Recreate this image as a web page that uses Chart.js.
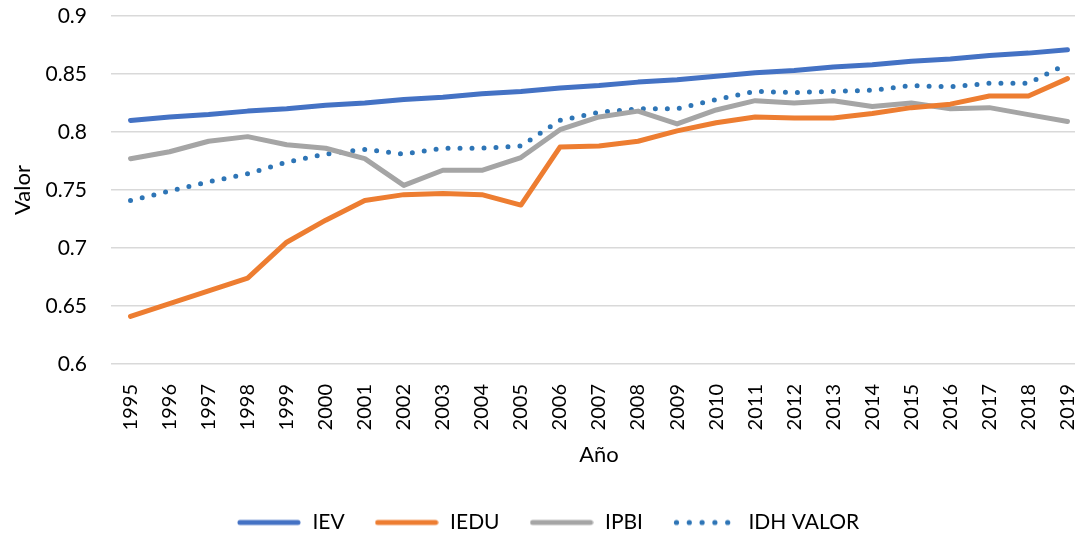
<!DOCTYPE html>
<html>
<head>
<meta charset="utf-8">
<script src="https://cdn.jsdelivr.net/npm/chart.js@4"></script>
<style>
  html, body { margin: 0; padding: 0; background: #fff; overflow: hidden; }
  #wrap { width: 1096px; height: 537px; }
</style>
</head>
<body>
<div id="wrap"><canvas id="chart" width="1096" height="537"></canvas></div>
<script>
const years = ["1995", "1996", "1997", "1998", "1999", "2000", "2001", "2002", "2003", "2004",
  "2005", "2006", "2007", "2008", "2009", "2010", "2011", "2012", "2013", "2014",
  "2015", "2016", "2017", "2018", "2019"];

const iev = [0.810, 0.813, 0.815, 0.818, 0.820, 0.823, 0.825, 0.828, 0.830, 0.833,
  0.835, 0.838, 0.840, 0.843, 0.845, 0.848, 0.851, 0.853, 0.856, 0.858,
  0.861, 0.863, 0.866, 0.868, 0.871];

const iedu = [0.641, 0.652, 0.663, 0.674, 0.705, 0.724, 0.741, 0.746, 0.747, 0.746,
  0.737, 0.787, 0.788, 0.792, 0.801, 0.808, 0.813, 0.812, 0.812, 0.816,
  0.821, 0.824, 0.831, 0.831, 0.846];

const ipbi = [0.777, 0.783, 0.792, 0.796, 0.789, 0.786, 0.777, 0.754, 0.767, 0.767,
  0.778, 0.802, 0.813, 0.818, 0.807, 0.819, 0.827, 0.825, 0.827, 0.822,
  0.825, 0.820, 0.821, 0.815, 0.809];

const idh = [0.741, 0.749, 0.757, 0.764, 0.774, 0.781, 0.785, 0.781, 0.786, 0.786,
  0.788, 0.810, 0.817, 0.820, 0.820, 0.828, 0.835, 0.834, 0.835, 0.836,
  0.840, 0.839, 0.842, 0.842, 0.859];

const yTicks = [0.6, 0.65, 0.7, 0.75, 0.8, 0.85, 0.9];

const font = "Lato, 'Liberation Sans', sans-serif";
const textColor = "#000";

function line(label, data, color, dashed) {
  return {
    label: label,
    data: data,
    borderColor: color,
    backgroundColor: color,
    borderWidth: 5,
    borderCapStyle: "round",
    borderJoinStyle: "round",
    borderDash: dashed ? [0, 12] : [],
    pointRadius: 0,
    pointHoverRadius: 0,
    fill: false,
    tension: 0,
  };
}

// small picture used as the legend sample (line or dots)
function legendSample(color, dashed) {
  const c = document.createElement("canvas");
  c.width = 64;
  c.height = 8;
  const ctx = c.getContext("2d");
  ctx.strokeStyle = color;
  ctx.fillStyle = color;
  ctx.lineWidth = 5;
  ctx.lineCap = "round";
  if (dashed) {
    for (let x = 3.5; x < 63; x += 12.8) {
      ctx.beginPath();
      ctx.arc(x, 4, 2.6, 0, Math.PI * 2);
      ctx.fill();
    }
  } else {
    ctx.beginPath();
    ctx.moveTo(3, 4);
    ctx.lineTo(61, 4);
    ctx.stroke();
  }
  return c;
}

new Chart(document.getElementById("chart"), {
  type: "line",
  data: {
    labels: years,
    datasets: [
      line("IEV", iev, "#4472C4", false),
      line("IEDU", iedu, "#ED7D31", false),
      line("IPBI", ipbi, "#A5A5A5", false),
      line("IDH VALOR", idh, "#2E75B6", true),
    ],
  },
  options: {
    responsive: false,
    animation: false,
    layout: { padding: { top: 16, right: 1, left: 0, bottom: -6 } },
    plugins: {
      tooltip: { enabled: false },
      legend: {
        position: "bottom",
        labels: {
          usePointStyle: true,
          pointStyleWidth: 66,
          color: textColor,
          font: { family: font, size: 21 },
          padding: 29,
          generateLabels: (chart) => {
            const items = Chart.defaults.plugins.legend.labels.generateLabels(chart);
            items.forEach((item) => {
              const ds = chart.data.datasets[item.datasetIndex];
              item.pointStyle = legendSample(ds.borderColor, ds.borderDash.length > 0);
            });
            return items;
          },
        },
      },
    },
    scales: {
      x: {
        offset: true,
        grid: { display: false },
        border: { display: false },
        ticks: {
          color: textColor,
          font: { family: font, size: 20 },
          minRotation: 90,
          maxRotation: 90,
          autoSkip: false,
          padding: 12,
        },
        title: {
          display: true,
          text: "Año",
          color: textColor,
          font: { family: font, size: 22 },
          padding: { top: 0, bottom: 15 },
        },
        afterFit: (scale) => {
          scale.height = 119;
          scale.paddingRight = 9;
        },
      },
      y: {
        min: 0.6,
        max: 0.9,
        afterBuildTicks: (scale) => { scale.ticks = yTicks.map((v) => ({ value: v })); },
        grid: { color: "#D9D9D9", lineWidth: 1.5, tickLength: 24, tickColor: "rgba(0,0,0,0)" },
        border: { display: false },
        ticks: {
          color: textColor,
          font: { family: font, size: 21 },
          padding: 0,
          callback: (v) => parseFloat(Number(v).toFixed(2)).toString(),
        },
        title: {
          display: true,
          text: "Valor",
          color: textColor,
          font: { family: font, size: 22 },
          padding: { top: 10, bottom: 0 },
        },
        afterFit: (scale) => { scale.width = 111; },
      },
    },
  },
});
</script>
</body>
</html>
